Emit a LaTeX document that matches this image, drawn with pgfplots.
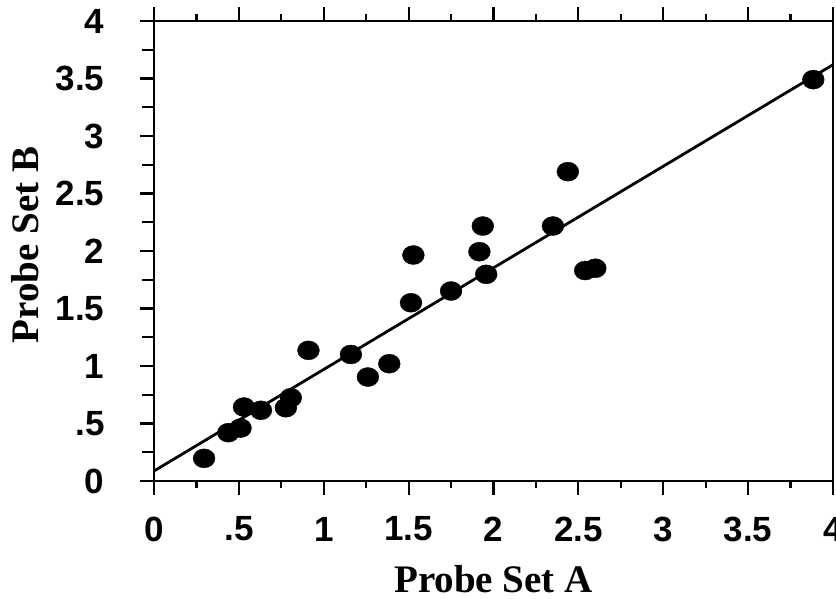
\documentclass[border=0pt]{standalone}
\usepackage{fontspec}
\setmainfont{Liberation Serif}
\setsansfont{Liberation Sans}
\usepackage{pgfplots}
\pgfplotsset{compat=1.18}
\begin{document}
\begin{tikzpicture}
\begin{axis}[
  scale only axis,
  width=679pt, height=460pt,
  xmin=0, xmax=4, ymin=0, ymax=4,
  xtick={0,0.5,1,1.5,2,2.5,3,3.5,4},
  xticklabels={0,.5,1,1.5,2,2.5,3,3.5,4},
  ytick={0,0.5,1,1.5,2,2.5,3,3.5,4},
  yticklabels={0,.5,1,1.5,2,2.5,3,3.5,4},
  minor tick num=1,
  xtick pos=both, ytick pos=left,
  tick align=outside,
  major tick length=14pt, minor tick length=7pt,
  minor y tick style={/pgfplots/minor tick length=12pt},
  axis line style={line width=2.8pt},
  every tick/.style={line width=2.2pt, black},
  ticklabel style={font=\fontsize{35}{35}\selectfont\sffamily\bfseries},
  xticklabel style={anchor=center, yshift=-34pt},
  yticklabel shift=32pt,
  every axis x label/.style={at={(axis description cs:0.5,0)}, anchor=base, yshift=-112pt, font=\fontsize{39}{39}\selectfont\bfseries},
  every axis y label/.style={at={(axis description cs:0,0.5)}, shift={(-115pt,6pt)}, rotate=90, anchor=base, font=\fontsize{39}{39}\selectfont\bfseries},
  xlabel={Probe Set A},
  ylabel={Probe Set B},
]
\addplot[black, line width=2.8pt] coordinates {(0,0.087) (4,3.62)};
\addplot[only marks, mark=*, mark size=9.5pt, mark options={fill=black, draw=black, xscale=1.15}] coordinates {
(0.295,0.197)
(0.438,0.42)
(0.51,0.46)
(0.53,0.643)
(0.63,0.615)
(0.777,0.637)
(0.806,0.724)
(0.91,1.136)
(1.16,1.10)
(1.26,0.904)
(1.386,1.02)
(1.514,1.55)
(1.528,1.965)
(1.75,1.652)
(1.917,1.994)
(1.937,2.217)
(1.957,1.797)
(2.35,2.217)
(2.438,2.69)
(2.54,1.83)
(2.60,1.85)
(3.884,3.49)
};
\end{axis}
\pgfresetboundingbox
\path[use as bounding box] (-154pt,-118pt) rectangle (682pt,481pt);
\end{tikzpicture}
\end{document}
